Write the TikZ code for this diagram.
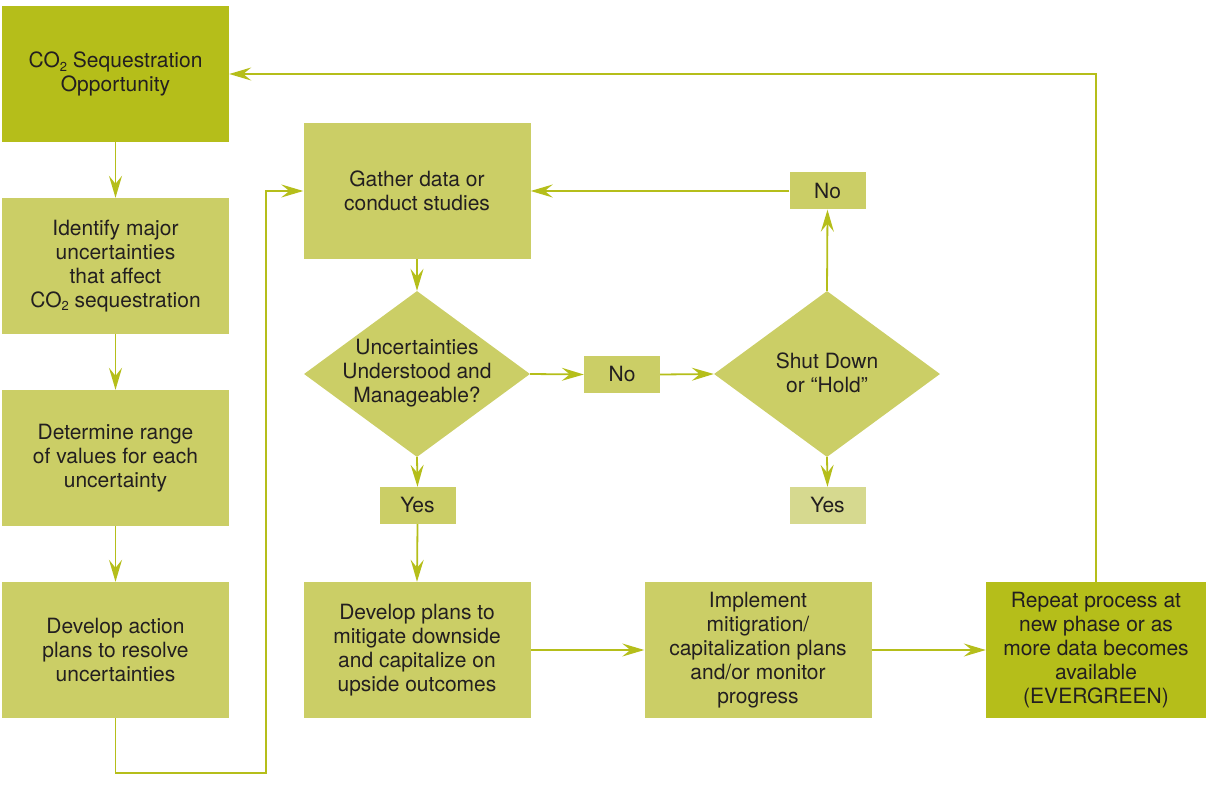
\documentclass[tikz,border=0pt]{standalone}
\usepackage{fontspec}
\setmainfont{TeX Gyre Heros}
\usetikzlibrary{arrows.meta,shapes.geometric}
\definecolor{dgreen}{HTML}{B5BE1A}
\definecolor{lgreen}{HTML}{CBCE66}
\definecolor{pgreen}{HTML}{D6D98F}
\definecolor{ink}{HTML}{231F20}
\newcommand\subtwo{\raisebox{-3.5pt}{\fontsize{13}{13}\selectfont 2}}
\begin{document}
\begin{tikzpicture}[x=1pt,y=-1pt,
  box/.style={rectangle, fill=lgreen, minimum width=227pt, minimum height=136pt, inner sep=0pt, align=center, text=ink, font=\fontsize{21}{24}\selectfont},
  dbox/.style={box, fill=dgreen},
  smallbox/.style={box, minimum width=76pt, minimum height=37pt},
  dia/.style={diamond, fill=lgreen, minimum width=226pt, minimum height=166pt, inner sep=0pt},
  txt/.style={align=center, text=ink, inner sep=0pt, font=\fontsize{21}{24}\selectfont},
  conn/.style={draw=dgreen, line width=1.8pt, -{Stealth[length=22pt,width=13pt,inset=8pt]}},
  plain/.style={draw=dgreen, line width=1.8pt}
]
\useasboundingbox (0,0) rectangle (1207,786);

\node[dbox] (co) at (115.5,74) {CO\subtwo{} Sequestration\\Opportunity};
\node[box] (ident) at (115.5,266) {Identify major\\uncertainties\\that affect\\CO\subtwo{} sequestration};
\node[box] (det) at (115.5,458) {Determine range\\of values for each\\uncertainty};
\node[box] (act) at (115.5,650) {Develop action\\plans to resolve\\uncertainties};

\node[box] (gather) at (417,191) {Gather data or\\conduct studies};
\node[dia] (d1) at (417,374) {};
\node[txt] (d1t) at (417,373) {Uncertainties\\Understood and\\Manageable?};
\node[smallbox] (no1) at (622,374.5) {No};
\node[dia] (d2) at (827,374) {};
\node[txt] (d2t) at (827,373) {Shut Down\\or “Hold”};
\node[smallbox] (no2) at (827.5,191) {No};
\node[smallbox] (yes1) at (417.5,505.5) {Yes};
\node[smallbox, fill=pgreen] (yes2) at (827.5,505.5) {Yes};

\node[box] (plans) at (417,650) {Develop plans to\\mitigate downside\\and capitalize on\\upside outcomes};
\node[box] (impl) at (758,650) {Implement\\mitigration/\\capitalization plans\\and/or monitor\\progress};
\node[dbox, minimum width=220pt] (rep) at (1096,650) {Repeat process at\\new phase or as\\more data becomes\\available\\(EVERGREEN)};

\coordinate (c1) at (266,773);
\coordinate (c2) at (266,191);

\draw[conn] (co.south) -- (ident.north);
\draw[conn] (ident.south) -- (det.north);
\draw[conn] (det.south) -- (act.north);
\draw[conn] (act.south) |- (c1) -- (c2) -- (gather.west);
\draw[conn] (gather.south) -- (d1.north);
\draw[conn] (d1.east) -- (no1.west);
\draw[conn] (no1.east) -- (d2.west);
\draw[conn] (d2.north) -- (no2.south);
\draw[conn] (no2.west) -- (gather.east);
\draw[conn] (d2.south) -- (yes2.north);
\draw[conn] (d1.south) -- (yes1.north);
\draw[conn] (yes1.south) -- (plans.north);
\draw[conn] (plans.east) -- (impl.west);
\draw[conn] (impl.east) -- (rep.west);
\draw[conn] (rep.north) -- (rep.north |- co.east) -- (co.east);
\end{tikzpicture}
\end{document}
